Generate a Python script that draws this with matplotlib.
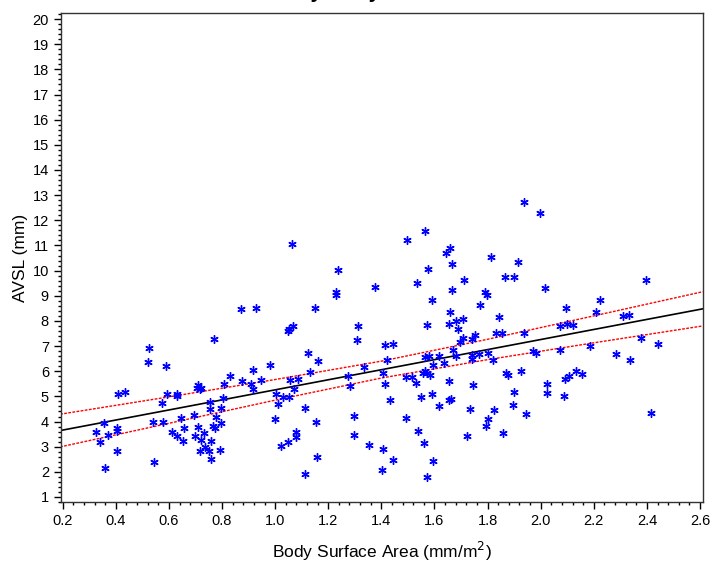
import numpy as np
import matplotlib
matplotlib.use("Agg")
import matplotlib.pyplot as plt
from matplotlib.ticker import MultipleLocator, FormatStrFormatter

plt.rcParams["font.family"] = ["Liberation Sans", "DejaVu Sans"]

# ── Data ─────────────────────────────────────────────────────────────────────
bsa = [
    0.36, 0.325, 0.34, 0.354, 0.37, 0.406, 0.406, 0.406, 0.408, 0.433,
    0.526, 0.521, 0.545, 0.59, 0.573, 0.541, 0.579, 0.594, 0.629, 0.629,
    0.61, 0.629, 0.646, 0.658, 0.653, 0.695, 0.698, 0.711, 0.721, 0.717,
    0.732, 0.736, 0.751, 0.759, 0.759, 0.794, 0.796, 0.776, 0.756, 0.754,
    0.765, 0.772, 0.796, 0.804, 0.809, 0.83, 0.874, 0.909, 0.916, 0.918,
    0.947, 0.98, 0.872, 0.927, 0.769, 0.71, 0.705, 0.72, 0.716, 0.998,
    1.011, 1.005, 1.031, 1.053, 1.023, 1.047, 1.049, 1.052, 1.069,
    1.065, 1.08, 1.08, 1.114, 1.159, 1.153, 1.114, 1.071, 1.057, 1.087,
    1.131, 1.16, 1.125, 1.149, 1.228, 1.229, 1.236, 1.312, 1.31, 1.275,
    1.281, 1.335, 1.297, 1.297, 1.355, 1.377,
    1.937, 1.999, 1.566, 1.496, 1.645, 1.658, 1.667, 1.575, 1.535, 1.813,
    1.916, 1.713, 1.865, 1.9, 1.665, 1.59, 1.792, 1.797, 2.018, 1.771,
    1.658, 1.572, 1.655, 1.681, 1.709, 1.688, 1.842, 1.832, 1.856, 1.707,
    1.698, 1.743, 1.752, 1.939, 2.094, 2.222, 2.209, 2.071, 2.1, 2.12,
    2.185, 2.074, 1.97, 1.983, 1.415, 1.445, 1.421, 1.566, 1.581, 1.618,
    1.669, 1.682, 1.743, 1.743, 1.769, 1.8, 1.82, 1.596, 1.637, 1.408,
    1.493, 1.514, 1.531, 1.565, 1.571, 1.584, 1.558, 1.655, 1.414, 1.744,
    1.87, 1.878, 1.924, 2.023, 2.023, 2.093, 2.106, 2.133, 2.157, 2.087,
    1.9, 1.895, 1.944, 1.433, 1.55, 1.59, 1.655, 1.662, 1.618, 1.734,
    1.824, 1.8, 1.794, 1.494, 1.538, 1.56, 1.722, 1.858, 1.408, 1.445,
    1.404, 1.593, 1.573,
    2.398, 2.311, 2.334, 2.378, 2.441, 2.283, 2.337, 2.415,
]
avsl = [
    2.14, 3.57, 3.19, 3.95, 3.47, 3.73, 3.62, 2.84, 5.09, 5.19,
    6.92, 6.38, 2.39, 6.19, 4.74, 3.98, 3.98, 5.11, 5.11, 5.02,
    3.59, 3.41, 4.13, 3.75, 3.23, 4.27, 3.43, 3.78, 3.25, 2.84,
    3.55, 3.0, 2.84, 3.21, 2.5, 2.85, 3.96, 4.19, 4.5, 4.78,
    3.82, 3.76, 4.54, 4.94, 5.51, 5.8, 5.6, 5.51, 6.04, 5.3,
    5.64, 6.24, 8.47, 8.53, 7.27, 5.45, 5.33, 5.33, 5.28, 4.1,
    4.68, 5.08, 4.98, 4.98, 3.02, 3.19, 7.59, 7.67, 7.79,
    11.05, 3.39, 3.59, 1.91, 2.58, 3.99, 4.52, 5.29, 5.67, 5.68,
    5.97, 6.41, 6.71, 8.5, 9.15, 9.04, 10.04, 7.8, 7.23, 5.83,
    5.4, 6.17, 4.21, 3.46, 3.08, 9.33,
    12.72, 12.3, 11.58, 11.21, 10.71, 10.91, 10.26, 10.06, 9.5, 10.54,
    10.33, 9.62, 9.76, 9.76, 9.23, 8.85, 9.13, 9.03, 9.32, 8.63,
    8.35, 7.83, 7.89, 8.0, 8.06, 7.69, 8.17, 7.52, 7.52, 7.31,
    7.16, 7.3, 7.44, 7.5, 8.51, 8.82, 8.35, 7.81, 7.89, 7.85,
    6.99, 6.86, 6.81, 6.73, 7.04, 7.1, 6.46, 6.57, 6.6, 6.6,
    6.86, 6.6, 6.66, 6.5, 6.67, 6.73, 6.46, 6.23, 6.31, 5.93,
    5.77, 5.77, 5.54, 6.01, 5.93, 5.84, 5.93, 5.63, 5.5, 5.47,
    5.91, 5.84, 5.99, 5.5, 5.14, 5.68, 5.83, 5.99, 5.88, 5.02,
    5.19, 4.66, 4.31, 4.85, 4.97, 5.1, 4.86, 4.89, 4.6, 4.5,
    4.45, 4.1, 3.81, 4.13, 3.63, 3.13, 3.41, 3.55, 2.89, 2.47,
    2.06, 2.43, 1.78,
    9.64, 8.19, 8.25, 7.34, 7.08, 6.7, 6.46, 4.35,
]

# fitted line and 95% confidence limits, read at a few x positions
fit_x   = [0.19, 0.6, 1.0, 1.4, 1.8, 2.2, 2.61]
fit_y   = [3.64, 4.46, 5.26, 6.06, 6.86, 7.66, 8.48]
upper_y = [4.29, 4.98, 5.67, 6.40, 7.27, 8.20, 9.16]
lower_y = [2.99, 3.93, 4.85, 5.73, 6.46, 7.13, 7.80]

TITLE = "AVSL by Body Surface Area"

# ── Figure ───────────────────────────────────────────────────────────────────
fig = plt.figure(figsize=(7.10, 5.67), dpi=100)
ax = fig.add_axes([0.0855, 0.1146, 0.9042, 0.8624])

ax.plot(bsa, avsl, linestyle="none", marker=(6, 2, 0), markersize=6,
        markeredgewidth=1.0, color="#0000FF", zorder=3)
ax.plot(fit_x, fit_y, color="black", lw=1.2, zorder=2)
ax.plot(fit_x, upper_y, color="#FF0000", lw=1.0, ls=(0, (2, 1)), zorder=2)
ax.plot(fit_x, lower_y, color="#FF0000", lw=1.0, ls=(0, (2, 1)), zorder=2)

ax.set_xlim(0.1925, 2.61)
ax.set_ylim(0.80, 20.24)
ax.xaxis.set_major_locator(MultipleLocator(0.2))
ax.xaxis.set_minor_locator(MultipleLocator(0.04))
ax.xaxis.set_major_formatter(FormatStrFormatter("%.1f"))
ax.yaxis.set_major_locator(MultipleLocator(1))
ax.yaxis.set_minor_locator(MultipleLocator(0.2))
ax.tick_params(which="major", length=5, width=1, labelsize=10.5, direction="out")
ax.tick_params(which="minor", length=2.5, width=1, direction="out")
for sp in ax.spines.values():
    sp.set_linewidth(1.0)
    sp.set_color("#333333")

ax.set_xlabel("Body Surface Area (mm/m$^{2}$)", fontsize=12.5, labelpad=9)
ax.set_ylabel("AVSL (mm)", fontsize=12.5, labelpad=3)

# title sits mostly above the canvas, as in the reference
fig.text(0.53, 1.0 + 2.0 / 567, TITLE, ha="center", va="baseline",
         fontsize=15, fontweight="bold")

fig.savefig("out.png", dpi=100)
